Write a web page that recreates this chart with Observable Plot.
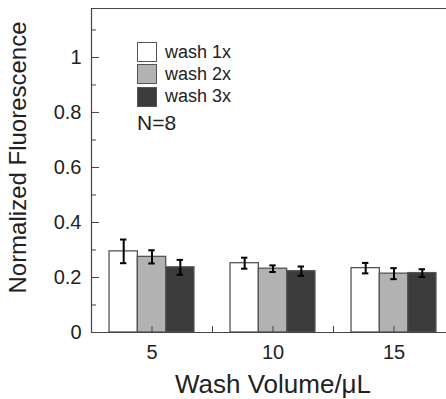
<!DOCTYPE html>
<html>
<head>
<meta charset="utf-8">
<script src="https://cdn.jsdelivr.net/npm/d3@7"></script>
<script src="https://cdn.jsdelivr.net/npm/@observablehq/plot@0.6"></script>
<style>
  html, body { margin: 0; padding: 0; background: #fff; overflow: hidden; }
  #wrap { position: relative; width: 446px; height: 399px; overflow: hidden; font-family: "Liberation Sans", Arial, sans-serif; }
  #legend { position: absolute; left: 137px; top: 41px; color: #222; }
  .item { display: flex; align-items: center; height: 22.3px; font-size: 18px; }
  .sw { width: 18px; height: 18px; border: 1px solid #555; margin-right: 8px; box-sizing: content-box; }
  #n { font-size: 21px; margin-top: 3px; }
</style>
</head>
<body>
<div id="wrap"></div>
<script>
const volumes = [5, 10, 15];
const series = ["wash 1x", "wash 2x", "wash 3x"];
const colors = ["#ffffff", "#b2b2b2", "#3b3b3b"];
// mean values per series, per volume
const wash1 = [0.295, 0.252, 0.234];
const wash2 = [0.275, 0.232, 0.214];
const wash3 = [0.237, 0.223, 0.216];
const err1 = [0.043, 0.020, 0.019];
const err2 = [0.024, 0.012, 0.020];
const err3 = [0.027, 0.017, 0.014];
const yMajor = [0, 0.2, 0.4, 0.6, 0.8, 1];
const yMinor = [0.1, 0.3, 0.5, 0.7, 0.9, 1.1];
const xMajor = [5, 10, 15];
const xMinor = [2.5, 7.5, 12.5, 17.5];
const nLabel = "N=8";

const means = [wash1, wash2, wash3];
const errs = [err1, err2, err3];
const barW = 1.17;
const data = [];
series.forEach((s, si) => {
  volumes.forEach((v, vi) => {
    const c = v + (si - 1) * barW;
    data.push({series: s, si, vol: v, x1: c - barW / 2, x2: c + barW / 2, xc: c,
               y: means[si][vi], lo: means[si][vi] - errs[si][vi], hi: means[si][vi] + errs[si][vi]});
  });
});

const xDom = [2.5, 17.5];
const yDom = [0, 1.178];
const W = 446, H = 399;
const pxX = (xDom[1] - xDom[0]) / (454 - 91);
const pxY = (yDom[1] - yDom[0]) / (332 - 8);
const capHalf = 3.2 * pxX;
const yTickLen = 8 * pxX, yMinorLen = 5 * pxX;
const xTickLen = 6 * pxY;

const chart = Plot.plot({
  width: W,
  height: H,
  marginLeft: 91,
  marginTop: 8,
  marginBottom: 67,
  marginRight: 0,
  style: {fontFamily: "Liberation Sans, Arial, sans-serif", color: "#222", background: "#fff", overflow: "hidden"},
  x: {domain: xDom, range: [91, 454], axis: null},
  y: {domain: yDom, axis: null},
  marks: [
    Plot.rect(data, {x1: "x1", x2: "x2", y1: 0, y2: "y", fill: d => colors[d.si], stroke: "#555", strokeWidth: 1.3}),
    Plot.ruleX(data, {x: "xc", y1: "lo", y2: "hi", stroke: "#000", strokeWidth: 2}),
    Plot.ruleY(data, {y: "lo", x1: d => d.xc - capHalf, x2: d => d.xc + capHalf, stroke: "#000", strokeWidth: 2}),
    Plot.ruleY(data, {y: "hi", x1: d => d.xc - capHalf, x2: d => d.xc + capHalf, stroke: "#000", strokeWidth: 2}),
    // frame
    Plot.ruleX([xDom[0]], {y1: yDom[0], y2: yDom[1], stroke: "#444", strokeWidth: 1.2}),
    Plot.ruleY([yDom[0], yDom[1]], {x1: xDom[0], x2: xDom[1], stroke: "#444", strokeWidth: 1.2}),
    // inward ticks
    Plot.ruleY(yMajor, {y: d => d, x1: xDom[0], x2: xDom[0] + yTickLen, stroke: "#444"}),
    Plot.ruleY(yMinor, {y: d => d, x1: xDom[0], x2: xDom[0] + yMinorLen, stroke: "#444"}),
    Plot.ruleX(xMajor, {x: d => d, y1: 0, y2: xTickLen, stroke: "#444"}),
    Plot.ruleX(xMinor, {x: d => d, y1: 0, y2: xTickLen, stroke: "#444"}),
    // tick labels
    Plot.text(yMajor, {x: xDom[0], y: d => d, text: d => String(d), textAnchor: "end", dx: -10, fontSize: 20, fill: "#222"}),
    Plot.text(xMajor, {x: d => d, y: 0, text: d => String(d), dy: 20, fontSize: 20, fill: "#222"}),
    // axis titles
    Plot.text(["Wash Volume/\u03bcL"], {x: 10, y: 0, dy: 52, fontSize: 26, fill: "#222"}),
    Plot.text(["Normalized Fluorescence"], {frameAnchor: "left", textAnchor: "middle", dx: -73, dy: -13, rotate: -90, fontSize: 24, fill: "#222"})
  ]
});

const wrap = document.getElementById("wrap");
wrap.appendChild(chart);
const leg = document.createElement("div");
leg.id = "legend";
series.forEach((s, i) => {
  const it = document.createElement("div");
  it.className = "item";
  const sw = document.createElement("div");
  sw.className = "sw";
  sw.style.background = colors[i];
  const t = document.createElement("span");
  t.textContent = s;
  it.appendChild(sw); it.appendChild(t);
  leg.appendChild(it);
});
const n = document.createElement("div");
n.id = "n";
n.textContent = nLabel;
leg.appendChild(n);
wrap.appendChild(leg);
</script>
</body>
</html>
